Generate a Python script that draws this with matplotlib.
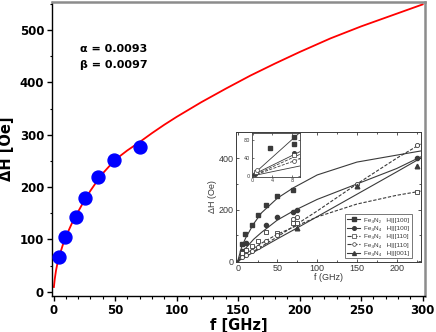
import matplotlib
matplotlib.use("Agg")
import matplotlib.pyplot as plt
from matplotlib.ticker import MultipleLocator

# ---------------- main data ----------------
freq_pts = [4.7, 9.3, 18.3, 25.9, 36.2, 49.2, 70.1]
dH_pts = [66, 105, 142, 179, 219, 252, 276]

fit_f = [0.3, 1, 2, 3, 5, 7.5, 10, 15, 20, 25, 30, 35, 40, 50, 60, 70, 80, 90,
         100, 120, 140, 160, 180, 200, 225, 250, 275, 300]
fit_dH = [9, 24, 40, 52, 70, 89, 105, 131, 153, 174, 193, 210, 226, 252, 270, 286,
          303, 319, 334, 362, 388, 413, 436, 458, 484, 507, 528, 549]

params_text = ["\u03b1 = 0.0093", "\u03b2 = 0.0097"]
x_ticks = [0, 50, 100, 150, 200, 250, 300]
y_ticks = [0, 100, 200, 300, 400, 500]

# ---------------- inset data ----------------
inset_labels = ["Fe\u2084N\u2082   H||[100]", "Fe\u2084N\u2084   H||[100]",
                "Fe\u2084N\u2082   H||[110]", "Fe\u2084N\u2084   H||[110]",
                "Fe\u2084N\u2084   H||[001]"]
n2_100_f = [5, 9, 18, 26, 36, 49, 70]
n2_100_dH = [66, 105, 142, 179, 219, 252, 276]
n4_100_f = [5, 10, 36, 49, 70, 75, 225]
n4_100_dH = [40, 70, 140, 170, 190, 200, 400]
n2_110_f = [5, 10, 18, 26, 36, 49, 70, 75, 225]
n2_110_dH = [30, 45, 60, 78, 115, 110, 150, 150, 270]
n4_110_f = [5, 10, 18, 26, 36, 49, 70, 75, 150, 225]
n4_110_dH = [15, 25, 40, 55, 80, 100, 165, 170, 300, 452]
n4_001_f = [75, 150, 225]
n4_001_dH = [130, 292, 370]

curve_f = [0, 5, 10, 20, 30, 50, 70, 100, 150, 200, 230]
n2_100_fit = [0, 55, 90, 145, 188, 245, 285, 335, 385, 412, 428]
n4_100_fit = [0, 28, 50, 85, 112, 160, 195, 240, 300, 360, 405]
n2_110_fit = [0, 14, 27, 50, 70, 105, 132, 172, 222, 256, 272]
n4_110_fit = [0, 9, 19, 38, 57, 95, 135, 195, 300, 400, 455]
n4_001_fit = [0, 9, 17, 35, 52, 87, 121, 173, 260, 347, 400]

inset_xticks = [0, 50, 100, 150, 200]
inset_yticks = [0, 200, 400]

# ---------------- sub-inset data ----------------
sub_x = [0, 9.6]
sub_lines = [[2, 97], [2, 54], [0, 48], [0, 38], [0, 22]]
sub_line_styles = ["-", "-", "--", "--", "-"]
sub_sq_f = [3.5, 8.3, 8.3]
sub_sq_dH = [62, 86, 72]
sub_circ_f = [0.4, 8.3]
sub_circ_dH = [4, 50]
sub_osq_f = [0.6, 8.3]
sub_osq_dH = [8, 46]
sub_ocirc_f = [0.9, 8.3]
sub_ocirc_dH = [13, 34]
sub_xticks = [0, 4, 8]
sub_yticks = [0, 40, 80]

plt.rcParams["font.family"] = ["DejaVu Sans"]

fig = plt.figure(figsize=(4.36, 3.32), dpi=100)
ax = fig.add_axes([0.1186, 0.1084, 0.8573, 0.887])

ax.plot(fit_f, fit_dH, color="red", lw=1.3, zorder=2)
ax.plot(freq_pts, dH_pts, "o", color="#0000ff", mec="#0000ff", ms=9.3, zorder=3)

ax.set_xlim(-1.46, 302.3)
ax.set_ylim(-8.2, 554.5)
ax.set_xticks(x_ticks)
ax.set_yticks(y_ticks)
ax.xaxis.set_minor_locator(MultipleLocator(10))
ax.yaxis.set_minor_locator(MultipleLocator(50))
ax.tick_params(which="major", direction="out", length=3.5, width=1.0, labelsize=8.5, pad=2)
ax.tick_params(which="minor", direction="out", length=1.8, width=0.8)
for lab in ax.get_xticklabels() + ax.get_yticklabels():
    lab.set_fontweight("bold")
ax.spines["left"].set_linewidth(1.0)
ax.spines["bottom"].set_linewidth(1.0)
for s in ("top", "right"):
    ax.spines[s].set_color("#8c8c8c")
    ax.spines[s].set_linewidth(1.8)

ax.set_xlabel("f [GHz]", fontsize=10.5, fontweight="bold", labelpad=1)
ax.set_ylabel("\u0394H [Oe]", fontsize=10.5, fontweight="bold", labelpad=4)

ax.text(21.5, 464, params_text[0], fontsize=8, fontweight="bold", ha="left", va="center")
ax.text(21.5, 434, params_text[1], fontsize=8, fontweight="bold", ha="left", va="center")

# ---------------- inset ----------------
gc = "#3a3a3a"
axi = fig.add_axes([0.5406, 0.2117, 0.425, 0.3916], zorder=5)
axi.set_facecolor("white")
axi.plot(curve_f, n2_100_fit, "-", color=gc, lw=0.8)
axi.plot(curve_f, n4_100_fit, "-", color=gc, lw=0.8)
axi.plot(curve_f, n2_110_fit, "--", color=gc, lw=0.8, dashes=(3, 1.5))
axi.plot(curve_f, n4_110_fit, "--", color=gc, lw=0.8, dashes=(3, 1.5))
axi.plot(curve_f, n4_001_fit, "-", color=gc, lw=0.8)

h1, = axi.plot(n2_100_f, n2_100_dH, "s", color=gc, ms=3)
h2, = axi.plot(n4_100_f, n4_100_dH, "o", color=gc, ms=3)
h3, = axi.plot(n2_110_f, n2_110_dH, "s", color=gc, mfc="white", ms=3, mew=0.6)
h4, = axi.plot(n4_110_f, n4_110_dH, "o", color=gc, mfc="white", ms=3, mew=0.6)
h5, = axi.plot(n4_001_f, n4_001_dH, "^", color=gc, ms=3.3)

from matplotlib.lines import Line2D
handles = [
    Line2D([], [], color=gc, lw=0.8, marker="s", ms=2.6),
    Line2D([], [], color=gc, lw=0.8, marker="o", ms=2.6),
    Line2D([], [], color=gc, lw=0.8, ls="--", marker="s", mfc="white", ms=2.6, mew=0.5),
    Line2D([], [], color=gc, lw=0.8, ls="--", marker="o", mfc="white", ms=2.6, mew=0.5),
    Line2D([], [], color=gc, lw=0.8, marker="^", ms=2.8),
]
leg = axi.legend(handles, inset_labels, loc="lower right", bbox_to_anchor=(0.95, 0.025),
                 fontsize=4.6, frameon=True, fancybox=False, edgecolor=gc,
                 handlelength=2.0, handletextpad=0.6, labelspacing=0.45,
                 borderpad=0.4, borderaxespad=0.0, prop={"family": "Liberation Sans", "size": 4.6})
leg.get_frame().set_linewidth(0.6)
for t in leg.get_texts():
    t.set_color(gc)

axi.set_xlim(-2.5, 230.6)
axi.set_ylim(-2, 503)
axi.set_xticks(inset_xticks)
axi.set_yticks(inset_yticks)
axi.xaxis.set_minor_locator(MultipleLocator(25))
axi.yaxis.set_minor_locator(MultipleLocator(100))
axi.tick_params(which="both", direction="in", color=gc, labelcolor=gc, width=0.6,
                top=True, right=True)
axi.tick_params(which="major", length=2.5, labelsize=6.5, pad=1.5)
axi.tick_params(which="minor", length=1.3)
for lab in axi.get_xticklabels() + axi.get_yticklabels():
    lab.set_family("Liberation Sans")
for s in axi.spines.values():
    s.set_color(gc)
    s.set_linewidth(0.7)
axi.set_xlabel("f (GHz)", fontsize=6.5, color=gc, labelpad=0, family="Liberation Sans")
axi.set_ylabel("\u0394H (Oe)", fontsize=6.5, color=gc, labelpad=1, family=["Liberation Sans", "DejaVu Sans"])

# ---------------- sub-inset ----------------
axs = fig.add_axes([0.5773, 0.4678, 0.1108, 0.1307], zorder=6)
axs.set_facecolor("white")
for yy, st in zip(sub_lines, sub_line_styles):
    axs.plot(sub_x, yy, st, color=gc, lw=0.6)
axs.plot(sub_sq_f, sub_sq_dH, "s", color=gc, ms=2.6)
axs.plot(sub_circ_f, sub_circ_dH, "o", color=gc, ms=2.6)
axs.plot(sub_osq_f, sub_osq_dH, "s", color=gc, mfc="white", ms=2.6, mew=0.5)
axs.plot(sub_ocirc_f, sub_ocirc_dH, "o", color=gc, mfc="white", ms=2.8, mew=0.5)
axs.set_xlim(-0.2, 9.6)
axs.set_ylim(-2, 95)
axs.set_xticks(sub_xticks)
axs.set_yticks(sub_yticks)
axs.tick_params(direction="in", length=1.5, width=0.5, labelsize=3.6, pad=1,
                color=gc, labelcolor=gc, top=True, right=True)
for s in axs.spines.values():
    s.set_color(gc)
    s.set_linewidth(0.6)

fig.savefig("out.png", dpi=100)
